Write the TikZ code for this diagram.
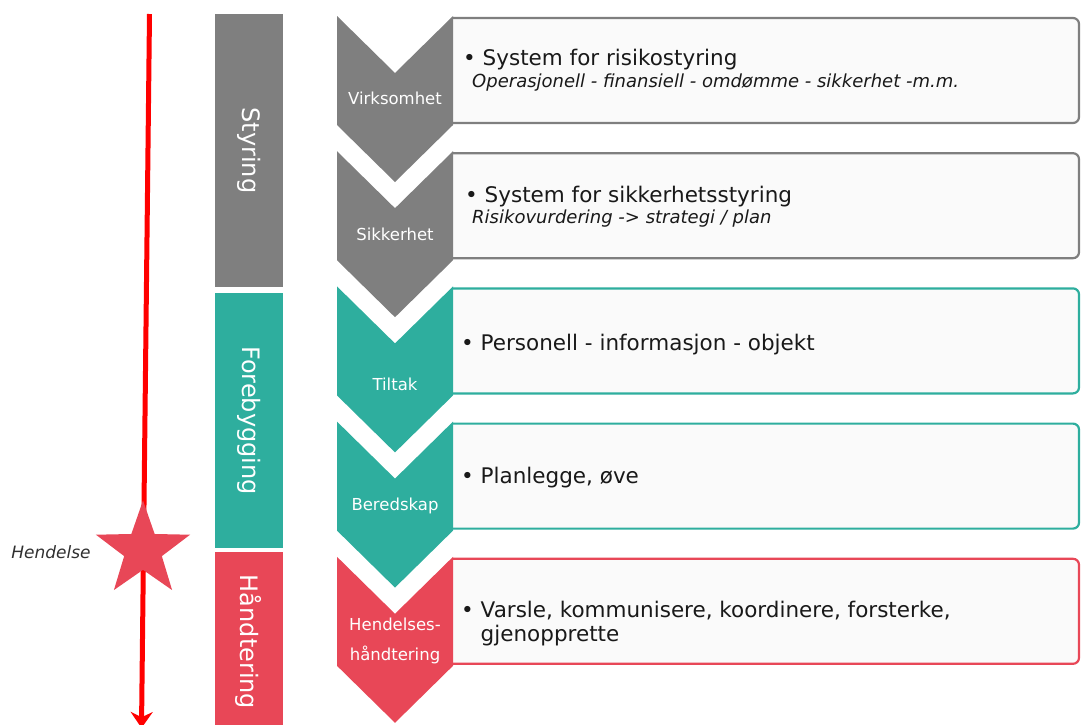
\documentclass[tikz,border=0pt]{standalone}
\usepackage{fontspec}
\setmainfont{DejaVu Sans}
\usetikzlibrary{shapes.geometric,arrows.meta}
\definecolor{grayc}{RGB}{127,127,127}
\definecolor{tealc}{RGB}{46,174,158}
\definecolor{redc}{RGB}{232,71,87}
\definecolor{boxc}{RGB}{250,250,250}
\definecolor{textc}{RGB}{25,25,25}
\begin{document}
\begin{tikzpicture}
  [x=1pt,y=-1pt,
   bar/.style={rotate=-90,minimum height=68pt,inner sep=0pt,text=white,font=\fontsize{24}{28}\selectfont},
   chev/.style={text=white,font=\fontsize{16.5}{30}\selectfont,align=center,inner sep=0pt},
   info/.style={anchor=west,inner sep=0pt,text=textc,font=\fontsize{21.5}{24}\selectfont,align=left},
   sub/.style={anchor=west,inner sep=0pt,text=textc,font=\fontsize{18}{20}\selectfont\itshape}]

  \useasboundingbox (0,0) rectangle (1081,724);

  % time line
  \coordinate (top) at (149.5,14);
  \coordinate (bot) at (141.5,728);
  \draw[red,line width=5pt,-{Stealth[length=16pt,width=22pt]}] (top) -- (bot);
  \node[star,star points=5,star point ratio=2.5,fill=redc,minimum size=99pt,inner sep=0pt] (ev) at (143,550) {};
  \node[font=\fontsize{17}{20}\selectfont\itshape,text=textc!90] (hend) at (51,552) {Hendelse};

  % phases
  \node[bar,fill=grayc,minimum width=273pt] (styring) at (249,150.5) {Styring};
  \node[bar,fill=tealc,minimum width=255pt] (forebygging) at (249,420.5) {Forebygging};
  \node[bar,fill=redc,minimum width=180pt] (handtering) at (249,642) {Håndtering};

  % chevrons and boxes
  \foreach \i/\col/\lab/\dy in {0/grayc/Virksomhet/82, 1/grayc/Sikkerhet/83, 2/tealc/Tiltak/98,
                                3/tealc/Beredskap/84, 4/redc/{Hendelses-\\håndtering}/84}
  {
    \pgfmathsetmacro\t{16+135.2*\i}
    \draw[line width=2.2pt,draw=\col,fill=boxc,rounded corners=6pt]
      (453,\t+2) -- (1079,\t+2) -- (1079,\t+107) -- (453,\t+107);
    \fill[\col] (337,\t) -- (395,\t+57) -- (453,\t) -- (453,\t+109) -- (395,\t+166) -- (337,\t+109) -- cycle;
    \node[chev] (c\i) at (395,\t+\dy) {\lab};
  }

  \node[info] (t1) at (463,60) {• System for risikostyring};
  \node[sub] (t1a) at (472,83) {Operasjonell - finansiell - omdømme - sikkerhet -m.m.};
  \node[info] (t2) at (465,197) {• System for sikkerhetsstyring};
  \node[sub] (t2a) at (472,219) {Risikovurdering -> strategi / plan};
  \node[info] (t3) at (461,345) {• Personell - informasjon - objekt};
  \node[info] (t4) at (461,478) {• Planlegge, øve};
  \node[info] (t5) at (461,624) {• Varsle, kommunisere, koordinere, forsterke,\\\phantom{• }gjenopprette};

\end{tikzpicture}
\end{document}
